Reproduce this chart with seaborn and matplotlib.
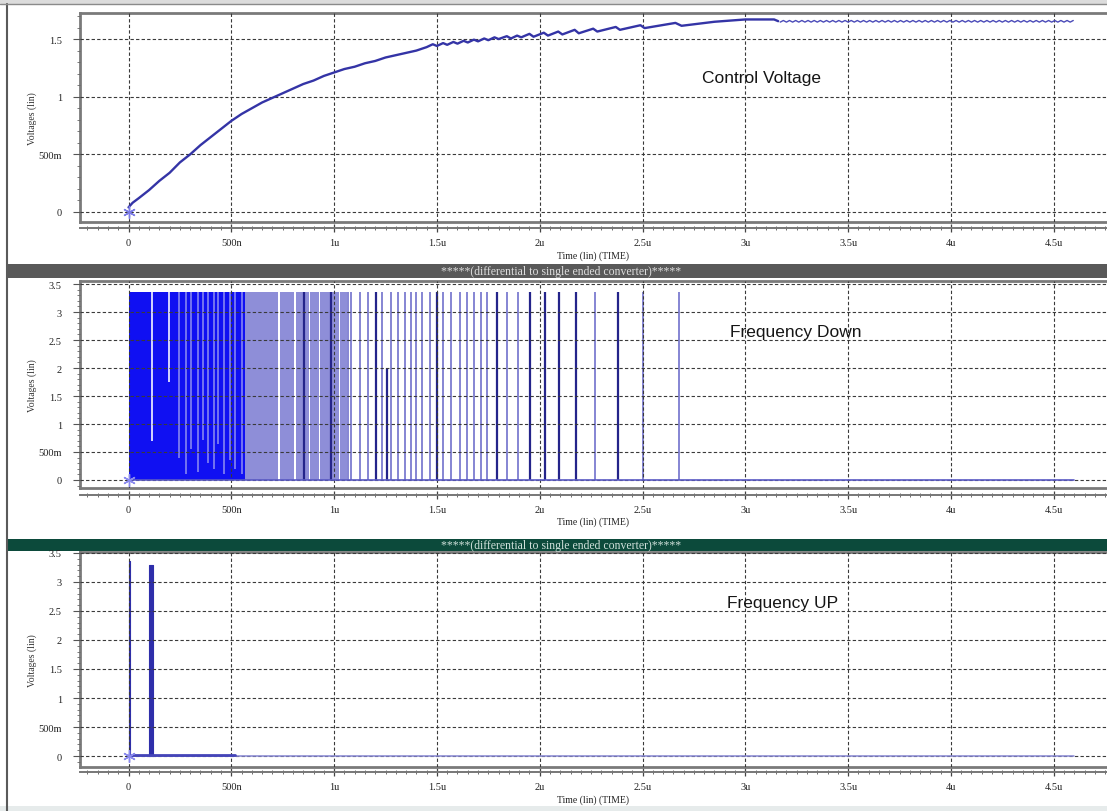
import matplotlib
matplotlib.use("Agg")
import matplotlib.pyplot as plt
import seaborn as sns
import pandas as pd
from matplotlib.patches import Rectangle
from matplotlib.lines import Line2D
from matplotlib.ticker import FixedLocator, FixedFormatter, MultipleLocator

# ---------------- data (time in microseconds, voltage in volts) ----------------
x_ticks = [0, 0.5, 1.0, 1.5, 2.0, 2.5, 3.0, 3.5, 4.0, 4.5]
x_tick_labels = ["0", "500n", "1u", "1.5u", "2u", "2.5u", "3u", "3.5u", "4u", "4.5u"]
top_y_ticks = [0, 0.5, 1.0, 1.5]
top_y_labels = ["0", "500m", "1", "1.5"]
pulse_y_ticks = [0, 0.5, 1.0, 1.5, 2.0, 2.5, 3.0, 3.5]
pulse_y_labels = ["0", "500m", "1", "1.5", "2", "2.5", "3", "3.5"]

# Control voltage: charging curve with sawtooth teeth
ctrl_t = [0.00, 0.02, 0.05, 0.10, 0.15, 0.20, 0.25, 0.30, 0.35, 0.40, 0.45, 0.50,
          0.55, 0.60, 0.65, 0.70, 0.75, 0.80, 0.85, 0.90, 0.95, 1.00, 1.05, 1.10,
          1.15, 1.20, 1.25, 1.30, 1.35, 1.40, 1.45,
          1.48, 1.50, 1.53, 1.55, 1.58, 1.60, 1.63, 1.65, 1.68, 1.70, 1.73, 1.75,
          1.78, 1.80, 1.84, 1.86, 1.89, 1.91, 1.95, 1.97, 2.02, 2.04, 2.09, 2.11,
          2.17, 2.19, 2.26, 2.28, 2.37, 2.39, 2.49, 2.51, 2.66, 2.69, 2.85, 3.00,
          3.14, 3.16]
ctrl_v = [0.04, 0.08, 0.12, 0.19, 0.27, 0.34, 0.43, 0.50, 0.58, 0.65, 0.72, 0.79,
          0.85, 0.90, 0.95, 0.99, 1.03, 1.07, 1.11, 1.14, 1.18, 1.21, 1.24, 1.26,
          1.29, 1.31, 1.34, 1.36, 1.38, 1.40, 1.43,
          1.455, 1.44, 1.465, 1.45, 1.475, 1.46, 1.485, 1.47, 1.495, 1.48, 1.505, 1.49,
          1.515, 1.50, 1.525, 1.505, 1.53, 1.515, 1.545, 1.52, 1.555, 1.53, 1.565, 1.54,
          1.58, 1.55, 1.59, 1.565, 1.605, 1.58, 1.62, 1.595, 1.64, 1.615, 1.65, 1.67,
          1.67, 1.655]

# Steady-state ripple of the control voltage after lock
ripple_t = [3.170, 3.185, 3.200, 3.215, 3.230, 3.245, 3.260, 3.275, 3.290, 3.305, 3.320, 3.335,
            3.350, 3.365, 3.380, 3.395, 3.410, 3.425, 3.440, 3.455, 3.470, 3.485, 3.500, 3.515,
            3.530, 3.545, 3.560, 3.575, 3.590, 3.605, 3.620, 3.635, 3.650, 3.665, 3.680, 3.695,
            3.710, 3.725, 3.740, 3.755, 3.770, 3.785, 3.800, 3.815, 3.830, 3.845, 3.860, 3.875,
            3.890, 3.905, 3.920, 3.935, 3.950, 3.965, 3.980, 3.995, 4.010, 4.025, 4.040, 4.055,
            4.070, 4.085, 4.100, 4.115, 4.130, 4.145, 4.160, 4.175, 4.190, 4.205, 4.220, 4.235,
            4.250, 4.265, 4.280, 4.295, 4.310, 4.325, 4.340, 4.355, 4.370, 4.385, 4.400, 4.415,
            4.430, 4.445, 4.460, 4.475, 4.490, 4.505, 4.520, 4.535, 4.550, 4.565, 4.580, 4.595]
ripple_v = [1.647, 1.661, 1.647, 1.661, 1.647, 1.661, 1.647, 1.661, 1.647, 1.661, 1.647, 1.661,
            1.647, 1.661, 1.647, 1.661, 1.647, 1.661, 1.647, 1.661, 1.647, 1.661, 1.647, 1.661,
            1.647, 1.661, 1.647, 1.661, 1.647, 1.661, 1.647, 1.661, 1.647, 1.661, 1.647, 1.661,
            1.647, 1.661, 1.647, 1.661, 1.647, 1.661, 1.647, 1.661, 1.647, 1.661, 1.647, 1.661,
            1.647, 1.661, 1.647, 1.661, 1.647, 1.661, 1.647, 1.661, 1.647, 1.661, 1.647, 1.661,
            1.647, 1.661, 1.647, 1.661, 1.647, 1.661, 1.647, 1.661, 1.647, 1.661, 1.647, 1.661,
            1.647, 1.661, 1.647, 1.661, 1.647, 1.661, 1.647, 1.661, 1.647, 1.661, 1.647, 1.661,
            1.647, 1.661, 1.647, 1.661, 1.647, 1.661, 1.647, 1.661, 1.647, 1.661, 1.647, 1.661]

# Frequency Down: dense pulse train, partly-merged region, then individual pulses
down_dense_start = 0.0
down_dense_end = 0.566
pulse_high = 3.36
dense_gap_t = [0.116, 0.197, 0.246, 0.280, 0.305, 0.339, 0.364, 0.388, 0.418, 0.437,
               0.462, 0.492, 0.516, 0.551]
dense_gap_low = [0.69, 1.75, 0.40, 0.10, 0.55, 0.15, 0.72, 0.30, 0.20, 0.65,
                 0.10, 0.35, 0.20, 0.10]
dense_gap_white = [1, 1, 0, 0, 0, 0, 0, 0, 0, 0, 0, 0, 0, 0]
light_block_start = [0.566, 0.737, 0.815, 0.884, 0.933, 1.030]
light_block_end = [0.728, 0.806, 0.876, 0.926, 1.022, 1.062]
down_t = [0.855, 0.983, 1.066, 1.082, 1.126, 1.165, 1.205, 1.234, 1.259, 1.278,
          1.313, 1.347, 1.372, 1.396, 1.426, 1.465, 1.499, 1.529, 1.568, 1.613,
          1.647, 1.681, 1.716, 1.745, 1.794, 1.839, 1.893, 1.952, 2.026, 2.094,
          2.178, 2.271, 2.380, 2.502, 2.679]
down_dark = [1, 1, 0, 0, 0, 0, 1, 0, 1, 0,
             0, 0, 0, 0, 0, 0, 1, 0, 0, 0,
             0, 0, 0, 0, 1, 0, 0, 1, 1, 1,
             1, 0, 1, 0, 0]
down_top = [3.36, 3.36, 3.36, 3.36, 3.36, 3.36, 3.36, 3.36, 2.00, 3.36,
            3.36, 3.36, 3.36, 3.36, 3.36, 3.36, 3.36, 3.36, 3.36, 3.36,
            3.36, 3.36, 3.36, 3.36, 3.36, 3.36, 3.36, 3.36, 3.36, 3.36,
            3.36, 3.36, 3.36, 3.36, 3.36]
signal_end = 4.60

# Frequency UP: two pulses near start
up_start = [0.000, 0.100]
up_end = [0.008, 0.118]
up_top = [3.36, 3.30]
up_thick_base_end = 0.52

# ---------------- styling ----------------
sns.set_theme(style="white")
plt.rcParams['font.family'] = ['Liberation Serif', 'DejaVu Serif']
sans = ['Liberation Sans', 'DejaVu Sans']

W, H = 1107, 812
fig = plt.figure(figsize=(W / 100, H / 100), dpi=100)
fig.patch.set_facecolor('white')


def fx(x):
    return x / W


def fy(y):
    return 1 - y / H


GRID_C = '#3a3a3a'
FRAME_C = '#7a7a7a'
XLIM = (-0.236, 4.813)


def make_panel(top_px, bottom_px, ylim, yticks, ylabels, axis_gap_px, xlabel_y):
    h = bottom_px - top_px
    ax = fig.add_axes([fx(80), fy(bottom_px), fx(W - 80) + 0.01, h / H])
    ax.set_facecolor('white')
    ax.set_xlim(*XLIM)
    ax.set_ylim(*ylim)
    ax.xaxis.set_major_locator(FixedLocator(x_ticks))
    ax.yaxis.set_major_locator(FixedLocator(yticks))
    ax.yaxis.set_major_formatter(FixedFormatter(ylabels))
    ax.yaxis.set_minor_locator(MultipleLocator(0.1))
    ax.tick_params(axis='x', which='both', bottom=False, labelbottom=False, top=False)
    ax.tick_params(axis='y', which='major', left=True, direction='out', length=5,
                   width=0.8, color='#555555', labelsize=7.5, pad=8, labelcolor='#222222')
    ax.tick_params(axis='y', which='minor', left=True, direction='out', length=2.5,
                   width=0.6, color='#666666')
    ax.grid(True, which='major', linestyle=(0, (3, 2)), color=GRID_C, linewidth=0.8)
    ax.set_axisbelow(False)
    for s in ['top', 'left', 'bottom']:
        ax.spines[s].set_visible(True)
        ax.spines[s].set_color(FRAME_C)
        ax.spines[s].set_linewidth(2.0)
    ax.spines['right'].set_visible(False)

    sec = ax.secondary_xaxis(-axis_gap_px / h)
    sec.xaxis.set_major_locator(FixedLocator(x_ticks))
    sec.xaxis.set_major_formatter(FixedFormatter(x_tick_labels))
    sec.xaxis.set_minor_locator(MultipleLocator(0.05))
    sec.tick_params(axis='x', which='major', direction='inout', length=6, width=0.9,
                    color='#444444', labelsize=7.5, pad=4, labelcolor='#222222')
    sec.tick_params(axis='x', which='minor', direction='inout', length=3, width=0.6,
                    color='#555555')
    for s in sec.spines.values():
        s.set_color('#777777')
        s.set_linewidth(1.4)
    fig.text(fx(593), fy(xlabel_y), 'Time (lin) (TIME)', ha='center', va='center',
             fontsize=7, color='#222222')
    return ax


# ---------------- window decorations ----------------
def rect(x0, y0, x1, y1, color, z=0):
    fig.add_artist(Rectangle((fx(x0), fy(y1)), fx(x1 - x0), (y1 - y0) / H,
                             transform=fig.transFigure, facecolor=color,
                             edgecolor='none', zorder=z))


rect(0, 0, W, 5, '#dcdcdc')
rect(7, 265, W, 279, '#595959')
rect(7, 540, W, 552, '#0c4a3b')
rect(0, 807, W, 812, '#e6ebeb')
fig.add_artist(Line2D([fx(7), fx(7)], [fy(5), fy(812)], transform=fig.transFigure,
                      color='#5a5a5a', linewidth=1.5))
fig.add_artist(Line2D([fx(0), fx(W)], [fy(5), fy(5)], transform=fig.transFigure,
                      color='#8a8a8a', linewidth=1.0))
title_txt = '*****(differential to single ended converter)*****'
fig.text(fx(561), fy(272), title_txt, ha='center', va='center', fontsize=8.5,
         color='#dddddd')
fig.text(fx(561), fy(546), title_txt, ha='center', va='center', fontsize=8.5,
         color='#cfe0da')

# ---------------- panel 1: control voltage ----------------
ax1 = make_panel(14, 223, (-0.087, 1.726), top_y_ticks, top_y_labels, 6, 256)
df_ctrl = pd.DataFrame({'t': ctrl_t, 'v': ctrl_v})
df_rip = pd.DataFrame({'t': ripple_t, 'v': ripple_v})
sns.lineplot(data=df_ctrl, x='t', y='v', ax=ax1, sort=False, estimator=None,
             color='#3434a6', linewidth=1.7, zorder=3)
sns.lineplot(data=df_rip, x='t', y='v', ax=ax1, sort=False, estimator=None,
             color='#4a4ab8', linewidth=1.0, zorder=3)
ax1.plot([0], [0], marker=(6, 2, 0), markersize=9, color='#7b7be6', zorder=4,
         linestyle='none')
ax1.text(2.79, 1.17, 'Control Voltage', family=sans, fontsize=12.5, ha='left',
         va='center', color='#151515')

# ---------------- panel 2: frequency down ----------------
ax2 = make_panel(282, 489, (-0.143, 3.554), pulse_y_ticks, pulse_y_labels, 7, 522)
ax2.fill_between([down_dense_start, down_dense_end], 0, pulse_high,
                 color='#1010f2', linewidth=0, zorder=1)
for s, e in zip(light_block_start, light_block_end):
    ax2.fill_between([s, e], 0, pulse_high, color='#8e8ed8', linewidth=0, zorder=1)
gap_colors = ['#e4e4ff' if w else '#7c7cf0' for w in dense_gap_white]
ax2.vlines(dense_gap_t, dense_gap_low, pulse_high, colors=gap_colors,
           linewidth=1.3, zorder=1.2)
line_colors = ['#24248a' if d else '#6464c8' for d in down_dark]
line_widths = [1.6 if d else 1.1 for d in down_dark]
ax2.vlines(down_t, 0, down_top, colors=line_colors, linewidths=line_widths, zorder=1.5)
df_base = pd.DataFrame({'t': [0.0, signal_end], 'v': [0.0, 0.0]})
sns.lineplot(data=df_base, x='t', y='v', ax=ax2, sort=False, estimator=None,
             color='#5a5ac4', linewidth=1.2, zorder=3)
ax2.plot([0], [0], marker=(6, 2, 0), markersize=9, color='#8a8aee', zorder=4,
         linestyle='none')
ax2.text(2.925, 2.66, 'Frequency Down', family=sans, fontsize=12.5, ha='left',
         va='center', color='#151515')

# ---------------- panel 3: frequency up ----------------
ax3 = make_panel(553, 768, (-0.189, 3.516), pulse_y_ticks, pulse_y_labels, 5, 800)
for s, e, tp in zip(up_start, up_end, up_top):
    ax3.fill_between([s, e], 0, tp, color='#2e2eaa', edgecolor='#2e2eaa',
                     linewidth=0.8, zorder=2)
sns.lineplot(data=pd.DataFrame({'t': [0.0, signal_end], 'v': [0.0, 0.0]}), x='t', y='v',
             ax=ax3, sort=False, estimator=None, color='#8686d2', linewidth=1.1, zorder=3)
sns.lineplot(data=pd.DataFrame({'t': [0.0, up_thick_base_end], 'v': [0.01, 0.01]}),
             x='t', y='v', ax=ax3, sort=False, estimator=None, color='#4444b8',
             linewidth=2.0, zorder=3)
ax3.plot([0], [0], marker=(6, 2, 0), markersize=9, color='#8a8aee', zorder=4,
         linestyle='none')
ax3.text(2.91, 2.64, 'Frequency UP', family=sans, fontsize=12.5, ha='left',
         va='center', color='#151515')

for a in (ax1, ax2, ax3):
    a.set_xlabel('')
    a.set_ylabel('Voltages (lin)', fontsize=7, color='#333333')
    a.yaxis.set_label_coords((37 - 80) / (W - 80), 0.5)

fig.savefig('out.png', dpi=100)
